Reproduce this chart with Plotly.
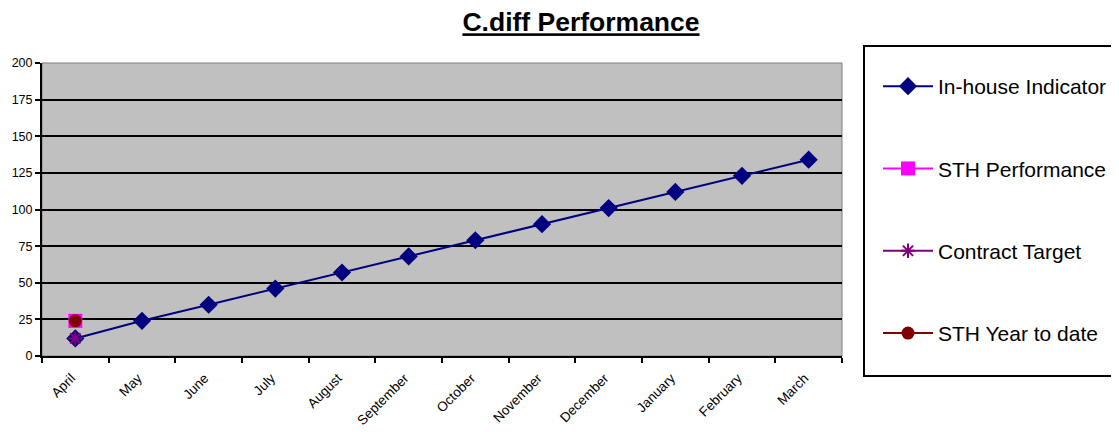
import plotly.graph_objects as go

months = ["April", "May", "June", "July", "August", "September", "October",
          "November", "December", "January", "February", "March"]
inhouse = [12, 24, 35, 46, 57, 68, 79, 90, 101, 112, 123, 134]
sth_perf = [24, None, None, None, None, None, None, None, None, None, None, None]
contract = [12, None, None, None, None, None, None, None, None, None, None, None]
sth_ytd = [24, None, None, None, None, None, None, None, None, None, None, None]

W, H = 1111, 424
L, T, PW, PH = 34, 55, 800, 293

fig = go.Figure()
fig.add_trace(go.Scatter(x=months, y=inhouse, name="In-house Indicator", mode="lines+markers",
                         line=dict(color="#000080", width=2),
                         marker=dict(symbol="diamond", size=14, color="#000080"),
                         legendgroup="a"))
fig.add_trace(go.Scatter(x=months, y=sth_perf, name="STH Performance", mode="lines+markers",
                         line=dict(color="#FF00FF", width=2),
                         marker=dict(symbol="square", size=14, color="#FF00FF"),
                         legendgroup="b"))
fig.add_trace(go.Scatter(x=months, y=contract, name="Contract Target", mode="lines+markers",
                         line=dict(color="#800080", width=2),
                         marker=dict(symbol="asterisk-open", size=12, color="#800080",
                                     line=dict(color="#800080", width=2)),
                         legendgroup="c"))
fig.add_trace(go.Scatter(x=months, y=sth_ytd, name="STH Year to date", mode="lines+markers",
                         line=dict(color="#800000", width=2),
                         marker=dict(symbol="circle", size=13, color="#800000"),
                         legendgroup="d"))

def px(xf):
    return (xf - L) / PW

def py(yf):
    return (T + PH - yf) / PH

fig.update_layout(
    width=W, height=H,
    margin=dict(l=L, r=W - L - PW, t=T, b=H - T - PH, autoexpand=False),
    paper_bgcolor="white", plot_bgcolor="#C0C0C0",
    font=dict(family="Liberation Sans, Arial", color="black"),
    title=dict(text="<b><u>C.diff Performance</u></b>", x=573 / W, xref="container",
               xanchor="center", y=1 - 14 / H, yref="container", yanchor="middle",
               font=dict(size=26.5)),
    showlegend=True,
    legend=dict(x=px(870), y=py(58), xanchor="left", yanchor="top",
                borderwidth=0, bgcolor="rgba(0,0,0,0)", itemwidth=50,
                font=dict(size=21), tracegroupgap=52, maxheight=1.0),
)
fig.update_xaxes(type="category", tickson="boundaries", ticks="outside", ticklen=5,
                 tickwidth=2, tickcolor="black", showline=True, linecolor="black",
                 linewidth=2, showgrid=False, tickangle=-45, tickfont=dict(size=13.5),
                 ticklabelstandoff=7, ticklabelshift=-4,
                 range=[-0.5, 11.5])
fig.update_yaxes(range=[0, 200], dtick=25, ticks="outside", ticklen=5, tickwidth=2,
                 tickcolor="black", showline=True, linecolor="black", linewidth=2,
                 showgrid=True, gridcolor="black", gridwidth=2, tickfont=dict(size=12.5),
                 zeroline=False)
fig.add_shape(type="rect", xref="paper", yref="paper", x0=0, x1=1, y0=0, y1=1,
              line=dict(color="#808080", width=1), layer="below")
fig.add_shape(type="rect", xref="paper", yref="paper", x0=px(856), x1=px(1108),
              y0=py(368), y1=py(38), line=dict(color="black", width=2),
              fillcolor="rgba(0,0,0,0)")

fig.write_html("out.html")
